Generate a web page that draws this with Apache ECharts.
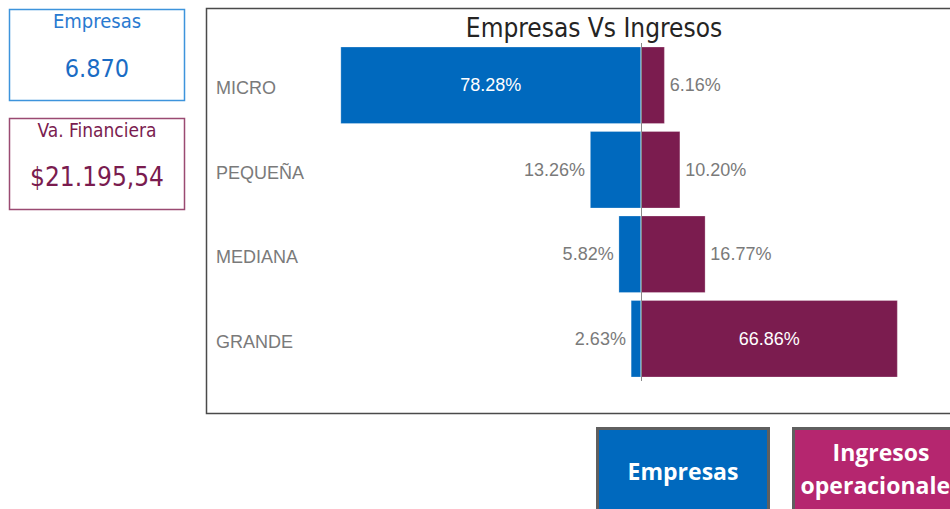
<!DOCTYPE html>
<html>
<head>
<meta charset="utf-8">
<script src="https://cdn.jsdelivr.net/npm/echarts@6/dist/echarts.min.js"></script>
<style>html,body{margin:0;padding:0;background:#fff;}#c{width:950px;height:509px;}</style>
</head>
<body>
<div id="c"></div>
<script>
const categories = ['MICRO', 'PEQUEÑA', 'MEDIANA', 'GRANDE'];
const empresasPct = [78.28, 13.26, 5.82, 2.63];
const ingresosPct = [6.16, 10.20, 16.77, 66.86];
const titleText = 'Empresas Vs Ingresos';
const card1Title = 'Empresas', card1Value = '6.870';
const card2Title = 'Va. Financiera', card2Value = '$21.195,54';
const btn1Text = 'Empresas', btn2Text = 'Ingresos\noperacionales';

const BLUE = '#0069be', MAROON = '#7b1c4f', GRAY = '#7a7a7a';
const din = '"DejaVu Sans Condensed", "DejaVu Sans", sans-serif';

const chart = echarts.init(document.getElementById('c'), null, {renderer: 'svg'});

function lbl(v, inside, side) {
  return {
    show: true,
    position: inside ? 'inside' : side,
    distance: 5,
    color: inside ? '#ffffff' : GRAY,
    fontFamily: 'Liberation Sans, Arial, sans-serif',
    fontSize: 18,
    formatter: () => v.toFixed(2) + '%'
  };
}

chart.setOption({
  animation: false,
  title: {
    text: titleText, left: 589, top: 10, textAlign: 'center',
    textStyle: {fontFamily: din, fontWeight: 'normal', fontSize: 26, color: '#252423'}
  },
  grid: {left: 334, width: 614, top: 43, height: 338, containLabel: false},
  xAxis: {type: 'value', min: -80, max: 80, show: false},
  yAxis: {
    type: 'category', data: categories, inverse: true,
    axisLine: {show: false}, axisTick: {show: false}, splitLine: {show: false},
    axisLabel: {align: 'left', margin: 118, color: GRAY, fontSize: 18,
      fontFamily: 'Liberation Sans, Arial, sans-serif', verticalAlign: 'top', lineHeight: 6}
  },
  series: [
    {
      name: 'Empresas', type: 'bar', barWidth: 77, barGap: '-100%',
      itemStyle: {color: BLUE, borderColor: 'rgba(255,255,255,0.5)', borderWidth: 0.5},
      data: empresasPct.map(v => ({value: -v, label: lbl(v, v > 50, 'left')})),
      markLine: {
        silent: true, symbol: 'none', label: {show: false},
        lineStyle: {color: '#8a8a8a', width: 1, type: 'solid'},
        data: [{xAxis: 0}]
      }
    },
    {
      name: 'Ingresos', type: 'bar', barWidth: 77,
      itemStyle: {color: MAROON, borderColor: 'rgba(255,255,255,0.5)', borderWidth: 0.5},
      data: ingresosPct.map(v => ({value: v, label: lbl(v, v > 50, 'right')}))
    }
  ],
  graphic: [
    {type: 'rect', shape: {x: 206.5, y: 8.5, width: 760, height: 405},
      style: {fill: 'none', stroke: '#4a4a4a', lineWidth: 1.5}, z: -1},
    {type: 'rect', shape: {x: 9.5, y: 9.5, width: 175, height: 91},
      style: {fill: '#fff', stroke: '#3d94dc', lineWidth: 1.5}},
    {type: 'text', x: 97, y: 21, style: {text: card1Title, fill: '#2a7ad0', font: '20px ' + din, textAlign: 'center', textVerticalAlign: 'middle'}},
    {type: 'text', x: 97, y: 68, style: {text: card1Value, fill: '#1a6cc4', font: '25px ' + din, textAlign: 'center', textVerticalAlign: 'middle'}},
    {type: 'rect', shape: {x: 9.5, y: 118.5, width: 175, height: 91},
      style: {fill: '#fff', stroke: '#9a4a72', lineWidth: 1.5}},
    {type: 'text', x: 97, y: 130, style: {text: card2Title, fill: '#7a1c4f', font: '19px ' + din, textAlign: 'center', textVerticalAlign: 'middle'}},
    {type: 'text', x: 97, y: 177, style: {text: card2Value, fill: '#7a1c4f', font: '26px ' + din, textAlign: 'center', textVerticalAlign: 'middle'}},
    {type: 'rect', shape: {x: 597.5, y: 428.5, width: 171, height: 90},
      style: {fill: '#0069be', stroke: '#5f5f5f', lineWidth: 3}},
    {type: 'text', x: 683, y: 471, style: {text: btn1Text, fill: '#fff', font: 'bold 23px "Open Sans", sans-serif', textAlign: 'center', textVerticalAlign: 'middle'}},
    {type: 'rect', shape: {x: 793.5, y: 428.5, width: 178, height: 90},
      style: {fill: '#b5266f', stroke: '#5f5f5f', lineWidth: 3}},
    {type: 'text', x: 881, y: 468, style: {text: btn2Text, fill: '#fff', font: 'bold 23px "Open Sans", sans-serif', lineHeight: 33, textAlign: 'center', textVerticalAlign: 'middle'}}
  ]
});
</script>
</body>
</html>
